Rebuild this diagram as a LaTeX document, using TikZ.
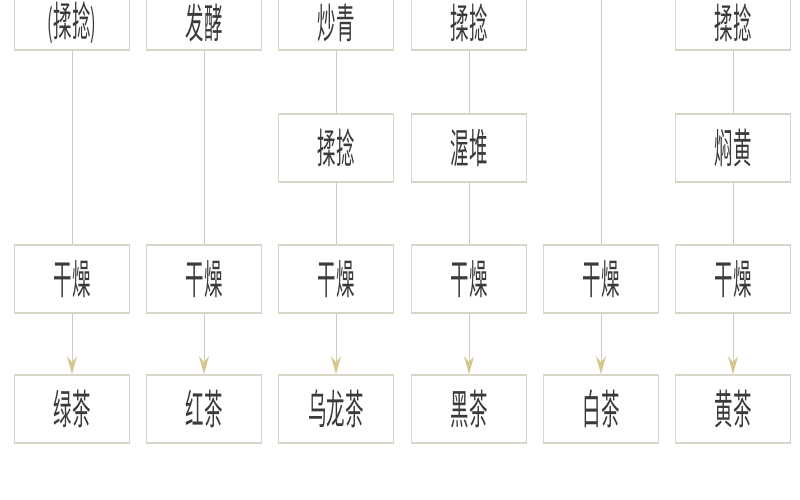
\documentclass[tikz,border=0pt]{standalone}
\usepackage{fontspec}
\usepackage{xcolor}
\usepackage{tikz}
\usetikzlibrary{arrows.meta}
\newfontfamily\cjk[FakeStretch=0.45]{Noto Sans CJK SC}
\definecolor{BoxLine}{HTML}{D8D6C8}
\definecolor{LinkLine}{HTML}{CFCBBC}
\definecolor{TipYellow}{HTML}{D6C88C}
\definecolor{TextGray}{HTML}{3A3A3A}

\begin{document}
\begin{tikzpicture}[x=1pt, y=-1pt,
		box/.style={draw=BoxLine, line width=1.6pt, fill=white, minimum width=115pt, minimum height=68pt, inner sep=0pt, text=TextGray, font=\cjk\fontsize{41pt}{43pt}\selectfont},
		topbox/.style={box, minimum height=54pt},
		link/.style={LinkLine, line width=1pt},
		>={Stealth[length=18pt, width=10pt, inset=6pt, color=TipYellow]}]
			\useasboundingbox (0,0) rectangle (800,500);
			\clip (0,0) rectangle (800,500);
			\fill[white] (0,0) rectangle (800,500);

			% drying and the six teas
			\foreach \x/\n/\t in {72/lv/绿茶, 204/hong/红茶, 336/wulong/乌龙茶, 469/hei/黑茶, 601/bai/白茶, 733/huang/黄茶}{
				\node[box] (\n-dry) at (\x,279) {干燥};
				\node[box] (\n) at (\x,409) {\t};
				\draw[link, ->] (\n-dry) -- (\n);
			}

			% first steps, cut by the top edge
			\node[topbox] (lv-roll) at (72,23) {{\fontsize{37pt}{39pt}\selectfont(}揉捻{\fontsize{37pt}{39pt}\selectfont)}};
			\node[topbox] (hong-ferm) at (204,23) {发酵};
			\node[topbox] (wulong-fix) at (336,23) {炒青};
			\node[topbox] (hei-roll) at (469,23) {揉捻};
			\coordinate (bai-top) at (601,0);
			\node[topbox] (huang-roll) at (733,23) {揉捻};

			\node[box] (wulong-roll) at (336,148) {揉捻};
			\node[box] (hei-pile) at (469,148) {渥堆};
			\node[box] (huang-yellow) at (733,148) {焖黄};

			\draw[link] (lv-roll) -- (lv-dry);
			\draw[link] (hong-ferm) -- (hong-dry);
			\draw[link] (wulong-fix) -- (wulong-roll);
			\draw[link] (wulong-roll) -- (wulong-dry);
			\draw[link] (hei-roll) -- (hei-pile);
			\draw[link] (hei-pile) -- (hei-dry);
			\draw[link] (bai-top) -- (bai-dry);
			\draw[link] (huang-roll) -- (huang-yellow);
			\draw[link] (huang-yellow) -- (huang-dry);

		\end{tikzpicture}
\end{document}
